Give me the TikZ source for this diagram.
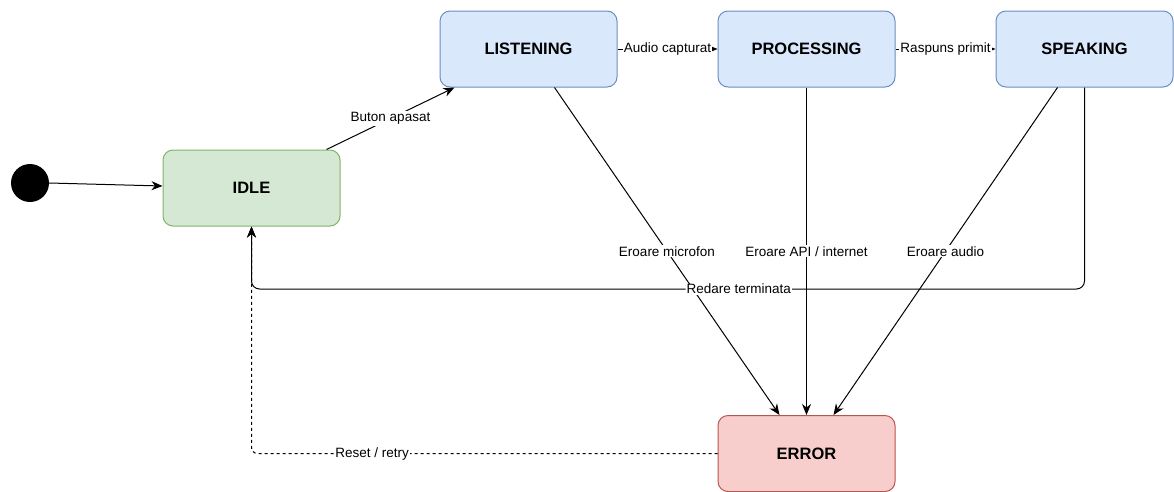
\documentclass[tikz,border=0pt]{standalone}
\usepackage{fontspec}
\setmainfont{Liberation Sans}
\usetikzlibrary{arrows.meta,calc}
\definecolor{gfill}{HTML}{D5E8D4}
\definecolor{gdraw}{HTML}{82B366}
\definecolor{bfill}{HTML}{DAE8FC}
\definecolor{bdraw}{HTML}{6C8EBF}
\definecolor{rfill}{HTML}{F8CECC}
\definecolor{rdraw}{HTML}{B85450}
\tikzset{
  state/.style={rectangle, rounded corners=10pt, minimum width=177pt, minimum height=76pt,
    line width=1pt, inner sep=0pt, font=\fontsize{16.5}{18}\selectfont\bfseries},
  green/.style={fill=gfill, draw=gdraw},
  blue/.style={fill=bfill, draw=bdraw},
  red/.style={fill=rfill, draw=rdraw},
  conn/.style={line width=1pt, -{Stealth[length=11pt,width=9pt,inset=3.5pt]}},
  elabel/.style={fill=white, inner sep=1pt, font=\fontsize{13.5}{15}\selectfont},
}
\begin{document}
\begin{tikzpicture}[x=1pt,y=-1pt]
\useasboundingbox (0,0) rectangle (1174,491);
\node[circle, fill=black, minimum size=38pt, inner sep=0pt] (init) at (30,183) {};
\node[state, green] (idle) at (251.5,188) {IDLE};
\node[state, blue] (listening) at (528.5,49) {LISTENING};
\node[state, blue] (processing) at (806.5,49) {PROCESSING};
\node[state, blue] (speaking) at (1084.5,49) {SPEAKING};
\node[state, red] (error) at (806.5,453.5) {ERROR};

\draw[conn] (init.east) -- ($(idle.west)+(0,-2)$);
\draw[conn] ($(idle.north east)+(-14,0)$) -- node[elabel]{Buton apasat} ($(listening.south west)+(15,0)$);
\draw[conn] (listening.east) -- node[elabel]{Audio capturat} (processing.west);
\draw[conn] (processing.east) -- node[elabel]{Raspuns primit} (speaking.west);
\draw[conn] ($(listening.south west)+(115,0)$) -- node[elabel]{Eroare microfon} ($(error.north west)+(62,0)$);
\draw[conn] (processing.south) -- node[elabel]{Eroare API / internet} (error.north);
\draw[conn] ($(speaking.south west)+(62,0)$) -- node[elabel]{Eroare audio} ($(error.north west)+(116,0)$);
\draw[conn, dash pattern=on 3pt off 3pt, rounded corners=6pt] (error.west) -- node[elabel, pos=0.741, dash pattern=]{Reset / retry} (idle.south |- error.west) -- (idle.south);
\draw[conn, rounded corners=8pt] (speaking.south) -- (speaking.south |- 0,289) -- node[elabel, pos=0.415]{Redare terminata} (idle.south |- 0,289) -- (idle.south);
\end{tikzpicture}
\end{document}
